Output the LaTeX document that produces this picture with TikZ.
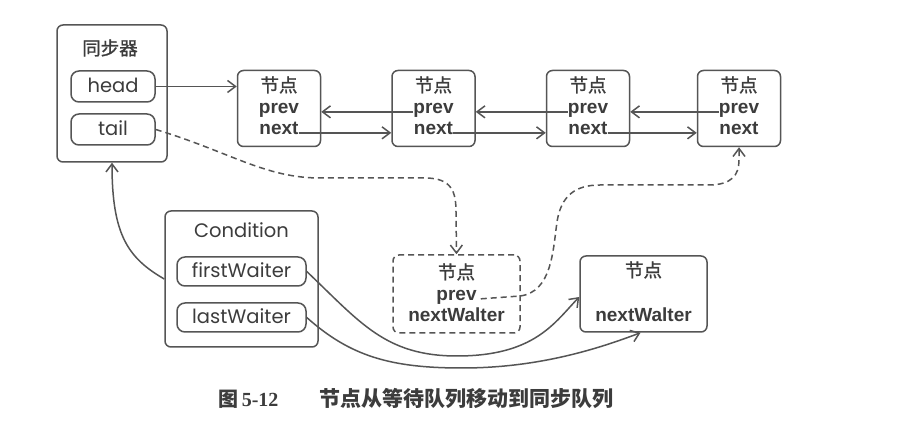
\documentclass[tikz,border=0pt]{standalone}
\usepackage{fontspec}
\usetikzlibrary{arrows.meta}
\newfontfamily\cjk[FakeBold=1.2]{Noto Sans CJK SC}
\newfontfamily\cjkc{Noto Sans CJK SC}
\newfontfamily\geo{Poppins}
\newfontfamily\arl{Liberation Sans}
\newfontfamily\tms{Liberation Serif}
\definecolor{ln}{HTML}{555555}
\definecolor{tx}{HTML}{3c3c3c}
\tikzset{
  box/.style={draw=ln, line width=1.5pt, rounded corners=6pt, inner sep=0pt},
  pill/.style={draw=ln, line width=1.5pt, rounded corners=8pt, inner sep=0pt},
  dbox/.style={box, dash pattern=on 6pt off 4pt},
  cjkt/.style={text=tx, inner sep=0pt, anchor=base, font=\cjk\fontsize{18.5}{20}\selectfont},
  geot/.style={text=tx, inner sep=0pt, anchor=base, font=\geo\fontsize{19.5}{21}\selectfont},
  bt/.style={text=tx, inner sep=0pt, anchor=base, font=\arl\bfseries\fontsize{19}{20}\selectfont},
  arr/.style={draw=ln, line width=1.5pt, -{Straight Barb[length=8pt,width=12pt]}},
  darr/.style={arr, dash pattern=on 6pt off 4pt},
}
\begin{document}
\begin{tikzpicture}[x=1pt,y=-1pt]
\useasboundingbox[fill=white] (0,0) rectangle (903,438);
% synchronizer
\node[box, minimum width=110, minimum height=137] (sync) at (112,93.5) {};
\node[cjkt] (synct) at (110,55) {同步器};
\node[pill, minimum width=84, minimum height=31] (head) at (113,86.5) {};
\node[geot] (headt) at (113,93) {head};
\node[pill, minimum width=84, minimum height=31] (tail) at (113,129.5) {};
\node[geot] (tailt) at (113,136) {tail};
% queue nodes
\foreach \n/\x in {n1/279, n2/433.5, n3/588, n4/739}{
  \node[box, minimum width=83, minimum height=76] (\n) at (\x,108.5) {};
  \node[cjkt] (\n c) at (\x,92) {节点};
  \node[bt] (\n p) at (\x,114) {prev};
  \node[bt] (\n n) at (\x,135) {next};
}
\draw[arr] (head.east) -- (n1.west |- head.east);
\draw[arr] (n2p.mid west) -- (n1.east |- n2p.mid west);
\draw[arr] (n3p.mid west) -- (n2.east |- n3p.mid west);
\draw[arr] (n4p.mid west) -- (n3.east |- n4p.mid west);
\draw[arr] (n1n.mid east) -- (n2.west |- n1n.mid east);
\draw[arr] (n2n.mid east) -- (n3.west |- n2n.mid east);
\draw[arr] (n3n.mid east) -- (n4.west |- n3n.mid east);
% condition
\node[box, minimum width=153, minimum height=136] (cond) at (241.5,279) {};
\node[geot] (condt) at (241.5,238) {Condition};
\node[pill, minimum width=129, minimum height=29] (fw) at (241.5,271.5) {};
\node[geot] (fwt) at (241.5,278) {firstWaiter};
\node[pill, minimum width=129, minimum height=29] (lw) at (241.5,317.5) {};
\node[geot] (lwt) at (241.5,324) {lastWaiter};
% dashed node
\node[dbox, minimum width=127, minimum height=78] (dn) at (456.5,294) {};
\node[cjkt] (dnc) at (456.5,279) {节点};
\node[bt] (dnp) at (456.5,301) {prev};
\node[bt] (dnw) at (456.5,322) {nextWalter};
% right node
\node[box, minimum width=127, minimum height=76] (rn) at (643.5,294) {};
\node[cjkt] (rnc) at (643.5,277) {节点};
\node[bt] (rnw) at (643.5,322) {nextWalter};
% connectors
\draw[darr] (tail.east) .. controls (230,152) and (265,178) .. (320,178) -- (425,178)
  .. controls (452,178) and (456,192) .. (456,212) -- (dn.north);
\draw[darr] ([xshift=4pt]dnp.mid east) -- (520,296) .. controls (552,292) and (553,250) .. (557,222)
  .. controls (561,196) and (575,185) .. (600,185) -- (708,185)
  .. controls (732,185) and (739,175) .. (739,160) -- (n4.south);
\draw[arr] (fw.east) .. controls (360,322) and (385,356) .. (457,356)
  .. controls (535,356) and (555,322) .. ([yshift=-3pt]rn.west);
\draw[arr] (lw.east) .. controls (350,356) and (390,368) .. (462,368)
  .. controls (540,368) and (600,348) .. ([xshift=-3pt]rn.south);
\draw[arr] (cond.west) .. controls (128,258) and (112,235) .. (sync.south);
% caption
\node[text=tx, inner sep=0pt, font=\fontsize{20}{22}\selectfont] (cap1) at (248.5,399)
  {{\cjkc\bfseries 图}\,{\tms\bfseries 5-12}};
\node[text=tx, inner sep=0pt, font=\cjkc\bfseries\fontsize{21}{22}\selectfont] (cap2) at (466.5,399)
  {节点从等待队列移动到同步队列};
\end{tikzpicture}
\end{document}
